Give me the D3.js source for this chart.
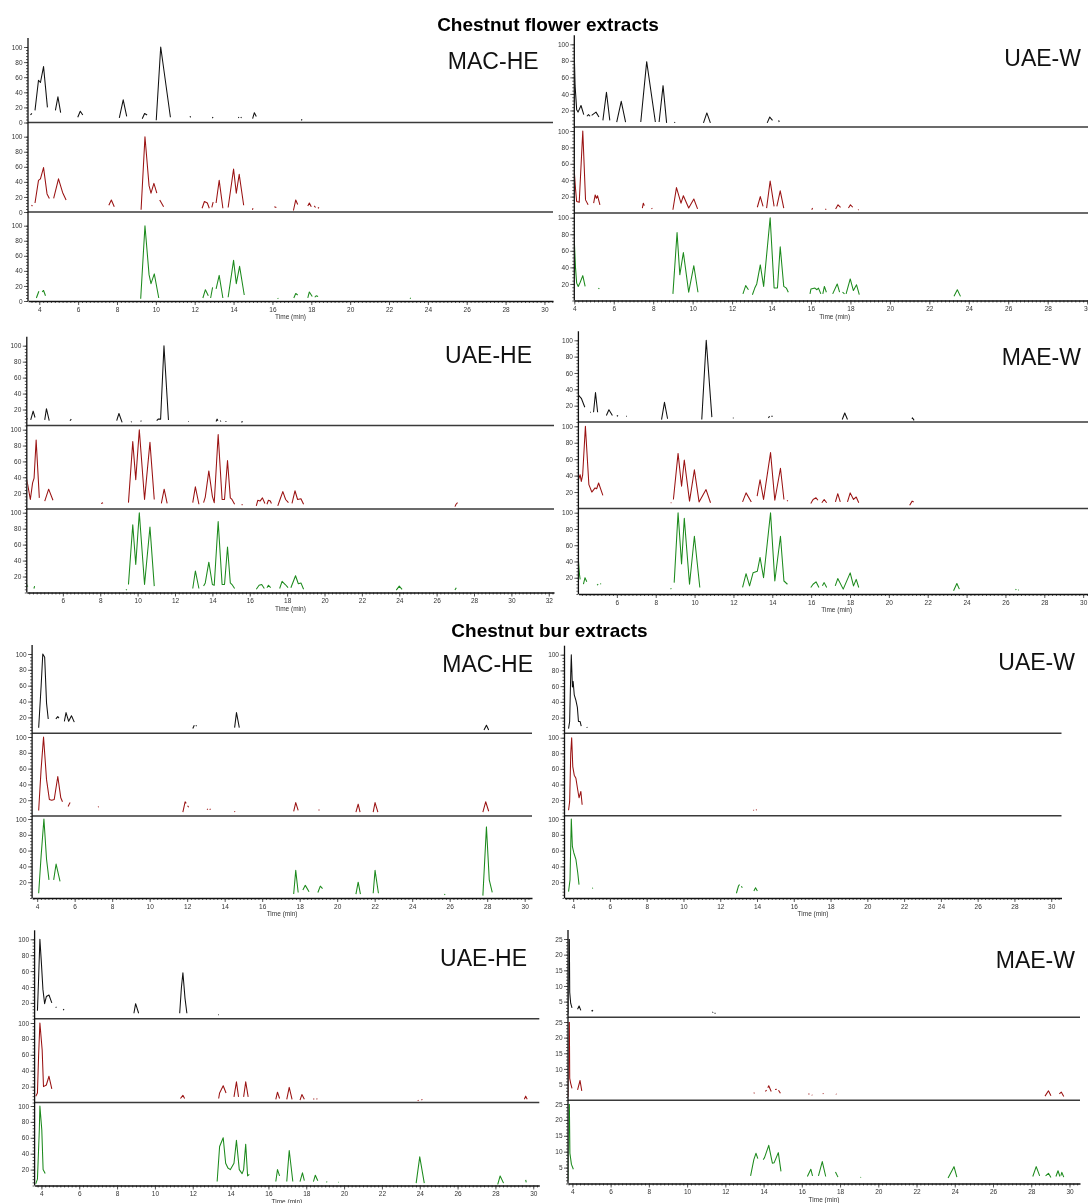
<!DOCTYPE html>
<html>
<head>
<meta charset="utf-8">
<script src="https://cdn.jsdelivr.net/npm/d3@7"></script>
<style>
  body { margin: 0; background: #fff; }
  svg { display: block; font-family: "Liberation Sans", Arial, sans-serif; will-change: transform; }
  .tick text { font-size: 6.5px; fill: #333; }
  .tick line { stroke: #333; stroke-width: 0.8; }
  .domain { stroke: #111; stroke-width: 1.3; }
</style>
</head>
<body>
<div id="chart"></div>
<script>
// each trace = list of visible segments, each segment = [time (min), relative abundance]
// ---- Chestnut flower, MAC-HE
const fMacHeK = [
  [[3.55,10],[3.62,12]],
  [[3.78,16],[3.96,56],[4.06,53],[4.22,74],[4.42,20]],
  [[4.83,16],[4.96,34],[5.1,13]],
  [[5.98,7],[6.11,15],[6.24,10]],
  [[8.12,6],[8.32,30],[8.5,8]],
  [[9.3,5],[9.42,12],[9.55,10]],
  [[10.02,3],[10.25,100],[10.75,7]],
  [[11.75,8],[11.8,7]], [[12.9,7],[12.95,6]],
  [[14.24,7],[14.28,6]], [[14.37,7],[14.41,6]],
  [[14.98,5],[15.07,13],[15.17,8]],
  [[17.48,4],[17.53,3]]
];
const fMacHeR = [
  [[3.6,9],[3.65,8]],
  [[3.78,12],[3.96,42],[4.06,44],[4.22,59],[4.4,24],[4.52,18]],
  [[4.74,18],[4.99,44],[5.2,26],[5.38,16]],
  [[7.58,9],[7.71,16],[7.86,7]],
  [[9.24,3],[9.44,100],[9.65,35],[9.75,25],[9.9,38],[10.05,25]],
  [[10.2,16],[10.4,7]],
  [[12.38,5],[12.5,14],[12.65,12],[12.75,5]],
  [[12.88,6],[12.95,13]],
  [[13.1,12],[13.26,42],[13.45,5]],
  [[13.72,6],[14.0,57],[14.14,25],[14.29,50],[14.52,9]],
  [[14.97,3],[15.0,5]], [[16.1,7],[16.2,6]],
  [[17.08,2],[17.2,16],[17.3,10]],
  [[17.82,8],[17.9,12],[18.0,7]], [[18.15,8],[18.22,6]], [[18.34,6],[18.4,5]]
];
const fMacHeG = [
  [[3.85,4],[3.98,13]], [[4.15,12],[4.22,14],[4.32,7]],
  [[9.22,3],[9.44,100],[9.65,35],[9.75,23],[9.92,36],[10.15,4]],
  [[12.42,4],[12.55,15],[12.7,7]],
  [[12.82,4],[12.92,18]],
  [[13.1,16],[13.26,34],[13.45,4]],
  [[13.72,5],[14.0,54],[14.14,23],[14.31,46],[14.55,8]],
  [[16.27,4],[16.3,3]],
  [[17.1,4],[17.2,10],[17.3,8]],
  [[17.82,4],[17.9,12],[18.05,6]], [[18.18,5],[18.25,7],[18.35,6]],
  [[23.08,4],[23.12,3]]
];
// ---- Chestnut flower, UAE-W
const fUaeWK = [
  [[4.0,87],[4.04,50],[4.12,21],[4.19,18],[4.34,26],[4.48,15]],
  [[4.64,13],[4.72,15],[4.8,13]],
  [[4.88,14],[5.1,18],[5.25,12]],
  [[5.45,8],[5.63,42],[5.8,8]],
  [[6.15,6],[6.38,31],[6.6,6]],
  [[7.37,6],[7.67,79],[8.11,6]],
  [[8.3,6],[8.5,50],[8.68,5]],
  [[9.08,6],[9.1,5]],
  [[10.55,5],[10.72,17],[10.9,5]],
  [[13.78,5],[13.91,12],[14.05,8]],
  [[14.36,8],[14.39,6]]
];
const fUaeWR = [
  [[4.0,51],[4.06,30],[4.12,14],[4.25,13],[4.43,100],[4.57,16],[4.7,10]],
  [[4.98,12],[5.06,22],[5.12,18],[5.18,21],[5.3,10]],
  [[7.45,6],[7.5,12],[7.55,9]], [[7.92,6],[7.95,5]],
  [[9.0,4],[9.18,31],[9.41,12],[9.53,21],[9.8,6],[10.06,17],[10.25,5]],
  [[13.28,7],[13.43,20],[13.57,8]],
  [[13.75,6],[13.93,39],[14.13,8]],
  [[14.27,8],[14.44,27],[14.62,6]],
  [[16.04,4],[16.08,6]], [[16.73,4],[16.77,5]],
  [[17.25,5],[17.37,10],[17.5,7]],
  [[17.9,6],[18.0,10],[18.12,7]],
  [[18.38,4],[18.42,4]]
];
const fUaeWG = [
  [[4.0,73],[4.06,40],[4.12,21],[4.2,17],[4.3,22],[4.43,30],[4.55,17]],
  [[5.22,15],[5.27,14]],
  [[9.0,8],[9.21,82],[9.35,31],[9.53,58],[9.8,10],[10.06,42],[10.27,10]],
  [[12.55,8],[12.69,18],[12.83,13]],
  [[13.03,7],[13.15,15],[13.25,20],[13.43,43],[13.6,17],[13.93,100],[14.13,15],[14.3,15],[14.44,65],[14.62,17],[14.75,15],[14.85,10]],
  [[15.95,8],[16.0,14],[16.2,15],[16.3,13],[16.38,15],[16.5,8]],
  [[16.6,8],[16.68,17],[16.78,10]],
  [[17.1,8],[17.33,20],[17.45,10]],
  [[17.6,10],[17.7,8]],
  [[17.78,8],[17.99,26],[18.15,12],[18.31,19],[18.45,7]],
  [[23.25,5],[23.42,13],[23.58,5]]
];
// ---- Chestnut flower, UAE-HE
const fUaeHeK = [
  [[4.07,9],[4.12,8]],
  [[4.28,7],[4.41,18],[4.51,10]],
  [[5.03,7],[5.12,21],[5.27,6]],
  [[6.38,6],[6.45,8]],
  [[8.88,6],[9.0,15],[9.17,4]],
  [[9.65,5],[9.68,4]], [[10.16,5],[10.2,6]],
  [[11.02,6],[11.1,8],[11.23,8],[11.41,100],[11.65,7]],
  [[12.7,5],[12.73,5]],
  [[14.2,5],[14.25,8],[14.3,6]], [[14.42,6],[14.46,5]], [[14.7,5],[14.75,5]],
  [[15.55,4],[15.62,5]]
];
const fUaeHeR = [
  [[4.07,37],[4.26,12],[4.38,33],[4.46,39],[4.57,87],[4.74,14]],
  [[5.03,10],[5.24,25],[5.47,11]],
  [[8.05,7],[8.15,8]],
  [[9.51,8],[9.74,85],[9.9,37],[10.09,100],[10.37,12],[10.66,84],[10.89,12]],
  [[11.27,7],[11.42,25],[11.58,7]],
  [[12.95,8],[13.09,28],[13.28,6]],
  [[13.53,8],[13.62,15],[13.81,48],[14.0,16],[14.1,8],[14.31,94],[14.52,12],[14.65,12],[14.81,61],[14.96,14],[15.05,12],[15.19,6]],
  [[15.57,5],[15.61,6]],
  [[16.35,4],[16.43,11],[16.55,10],[16.68,14],[16.81,7]],
  [[16.92,6],[17.0,11],[17.1,10],[17.16,7]],
  [[17.5,4],[17.62,12],[17.77,22],[17.92,12],[18.07,8]],
  [[18.26,7],[18.42,23],[18.56,12],[18.74,13],[18.88,6]],
  [[26.98,3],[27.04,6],[27.12,8]]
];
const fUaeHeG = [
  [[4.07,10],[4.12,7]], [[4.45,5],[4.49,8]], [[9.38,3],[9.42,4]],
  [[9.51,10],[9.74,85],[9.9,35],[10.09,100],[10.37,10],[10.66,82],[10.89,8]],
  [[12.95,5],[13.09,27],[13.28,5]],
  [[13.53,8],[13.62,12],[13.81,38],[14.0,10],[14.1,9],[14.31,89],[14.52,10],[14.65,10],[14.81,57],[14.96,12],[15.05,10],[15.19,5]],
  [[16.35,4],[16.5,9],[16.64,10],[16.78,5]],
  [[16.92,6],[17.0,9],[17.12,6]],
  [[17.6,5],[17.73,14],[17.9,10],[18.05,6]],
  [[18.2,6],[18.45,21],[18.6,11],[18.74,12],[18.88,4]],
  [[23.84,3],[24.0,8],[24.15,4]],
  [[26.98,3],[27.05,6]]
];
// ---- Chestnut flower, MAE-W
const fMaeWK = [
  [[4.02,33],[4.17,29],[4.35,18]],
  [[4.63,12],[4.67,12]],
  [[4.8,12],[4.9,36],[5.01,12]],
  [[5.46,8],[5.59,15],[5.77,8]],
  [[6.0,8],[6.06,7]], [[6.47,7],[6.51,7]],
  [[8.3,3],[8.45,24],[8.61,4]],
  [[10.37,3],[10.6,100],[10.89,6]],
  [[11.97,5],[12.01,5]],
  [[13.8,5],[13.86,7]], [[13.95,7],[14.02,7]],
  [[17.6,3],[17.73,11],[17.87,3]],
  [[21.18,4],[21.22,5],[21.3,2]]
];
const fMaeWR = [
  [[4.02,35],[4.11,41],[4.17,33],[4.24,41],[4.38,100],[4.56,29],[4.71,20],[4.88,25],[4.96,24],[5.06,31],[5.28,16]],
  [[8.77,7],[8.81,7]],
  [[8.91,11],[9.15,67],[9.33,27],[9.47,59],[9.74,9],[9.99,47],[10.23,8],[10.59,23],[10.82,7]],
  [[12.47,8],[12.65,19],[12.92,8]],
  [[13.22,15],[13.37,35],[13.55,11],[13.91,68],[14.13,10],[14.42,49],[14.6,11]],
  [[14.76,10],[14.8,9]],
  [[15.98,6],[16.1,11],[16.25,13],[16.35,10]],
  [[16.55,7],[16.67,11],[16.8,7]],
  [[17.25,8],[17.37,18],[17.5,8]],
  [[17.87,8],[18.01,19],[18.18,11],[18.32,14],[18.45,7]],
  [[21.07,4],[21.2,9],[21.28,8]]
];
const fMaeWG = [
  [[4.02,42],[4.07,25],[4.11,18]],
  [[4.28,12],[4.36,20],[4.45,15]],
  [[4.98,11],[5.04,12]], [[5.15,13],[5.18,12]],
  [[8.77,7],[8.8,6]],
  [[8.95,14],[9.15,100],[9.33,37],[9.47,93],[9.74,12],[9.99,71],[10.27,8]],
  [[12.47,8],[12.65,25],[12.83,10],[13.01,26],[13.23,28],[13.37,45],[13.55,20],[13.91,100],[14.13,16],[14.42,71],[14.6,16],[14.78,12]],
  [[15.98,8],[16.1,12],[16.25,15],[16.4,8]],
  [[16.58,10],[16.67,14],[16.8,8]],
  [[17.24,10],[17.37,19],[17.65,6],[18.01,26],[18.18,10],[18.32,18],[18.45,8]],
  [[23.33,4],[23.5,13],[23.63,6]],
  [[26.52,5],[26.56,6]], [[26.66,5],[26.7,5]]
];
// ---- Chestnut bur, MAC-HE
const bMacHeK = [
  [[4.08,7],[4.21,59],[4.3,100],[4.4,96],[4.5,38],[4.59,18]],
  [[5.0,18],[5.03,19],[5.1,21],[5.16,19]],
  [[5.45,15],[5.54,26],[5.68,15],[5.83,22],[5.98,14]],
  [[12.3,6],[12.38,10]], [[12.46,10],[12.5,9]],
  [[14.53,7],[14.63,26],[14.78,7]],
  [[27.83,4],[27.96,10],[28.08,4]]
];
const bMacHeR = [
  [[4.08,7],[4.21,59],[4.34,100],[4.5,46],[4.65,21],[4.78,20],[4.91,21],[5.1,50],[5.26,23],[5.35,18]],
  [[5.65,12],[5.73,16],[5.76,17]],
  [[7.25,12],[7.28,11]],
  [[11.77,5],[11.89,18],[11.95,16]], [[12.02,13],[12.08,11]],
  [[13.06,8],[13.1,9]], [[13.2,8],[13.25,9]],
  [[14.52,6],[14.55,5]],
  [[17.68,6],[17.79,17],[17.92,7]],
  [[19.01,8],[19.05,7]],
  [[21.0,5],[21.12,15],[21.22,5]],
  [[21.92,5],[22.02,17],[22.17,5]],
  [[27.77,5],[27.92,18],[28.08,6]]
];
const bMacHeG = [
  [[4.08,6],[4.21,53],[4.36,100],[4.5,49],[4.63,23]],
  [[4.88,23],[5.01,43],[5.22,21]],
  [[17.68,5],[17.79,35],[17.92,7]],
  [[18.17,10],[18.3,16],[18.5,8]],
  [[18.97,7],[19.1,15],[19.22,12]],
  [[21.0,5],[21.12,20],[21.24,5]],
  [[21.92,6],[22.02,35],[22.2,6]],
  [[25.72,4],[25.75,5]],
  [[27.77,3],[27.96,90],[28.11,23],[28.27,7]]
];
// ---- Chestnut bur, UAE-W
const bUaeWK = [
  [[3.75,6],[3.81,15],[3.87,76],[3.9,100],[3.96,59],[4.0,66],[4.06,49],[4.15,42],[4.23,33],[4.29,15],[4.38,15],[4.44,9]],
  [[4.74,8],[4.77,7]]
];
const bUaeWR = [
  [[3.75,7],[3.81,18],[3.87,80],[3.92,100],[3.98,63],[4.06,52],[4.15,48],[4.25,33],[4.32,23],[4.42,31],[4.49,14]],
  [[13.8,7],[13.84,7]], [[13.95,8],[13.98,7]]
];
const bUaeWG = [
  [[3.75,8],[3.83,23],[3.9,100],[3.96,65],[4.04,57],[4.15,49],[4.25,32],[4.32,17]],
  [[5.04,13],[5.07,12]],
  [[12.88,6],[12.99,15],[13.05,17]], [[13.15,15],[13.2,13]],
  [[13.83,9],[13.92,13],[14.02,9]]
];
// ---- Chestnut bur, UAE-HE
const bUaeHeK = [
  [[3.79,10],[3.85,49],[3.92,100],[4.0,70],[4.08,37],[4.17,19],[4.26,28],[4.4,30],[4.55,20]],
  [[4.76,15],[4.79,14]], [[5.15,12],[5.2,11]],
  [[8.89,7],[8.98,19],[9.14,7]],
  [[11.31,7],[11.4,39],[11.48,58],[11.59,26],[11.69,7]],
  [[13.35,5],[13.39,5]]
];
const bUaeHeR = [
  [[3.7,8],[3.79,12],[3.85,58],[3.92,100],[4.04,66],[4.11,20],[4.26,22],[4.4,33],[4.55,17]],
  [[11.35,5],[11.48,9],[11.57,5]],
  [[13.37,5],[13.42,12],[13.61,21],[13.76,12]],
  [[14.18,7],[14.31,26],[14.42,7]],
  [[14.69,7],[14.8,26],[14.93,7]],
  [[16.39,4],[16.48,13],[16.59,5]],
  [[16.97,4],[17.1,19],[17.25,4]],
  [[17.67,3],[17.77,10],[17.9,4]],
  [[18.38,4],[18.42,5]], [[18.55,5],[18.58,4]],
  [[23.9,3],[23.93,2]], [[24.1,4],[24.13,3]],
  [[29.53,4],[29.6,8],[29.68,4]]
];
const bUaeHeG = [
  [[3.7,2],[3.79,8],[3.89,70],[3.92,100],[4.02,70],[4.09,20],[4.2,15]],
  [[13.29,5],[13.42,49],[13.61,60],[13.74,28],[13.86,22],[13.99,20],[14.18,28],[14.31,57],[14.46,20],[14.61,15],[14.69,20],[14.8,52],[14.9,12],[14.99,14]],
  [[16.39,5],[16.48,20],[16.59,12]],
  [[16.97,5],[17.1,44],[17.29,5]],
  [[17.67,5],[17.8,16],[17.9,6]],
  [[18.38,5],[18.48,13],[18.61,6]],
  [[19.07,4],[19.1,5]], [[19.7,4],[19.73,4]],
  [[23.81,3],[24.0,36],[24.24,3]],
  [[28.12,1],[28.25,12],[28.43,3]],
  [[29.6,7],[29.63,4]]
];
// ---- Chestnut bur, MAE-W (scale 0-25)
const bMaeWK = [
  [[3.79,1],[3.81,26],[3.84,26],[3.86,8],[3.91,4.5],[3.98,3]],
  [[4.27,2.6],[4.35,3.6],[4.44,2.2]],
  [[5.0,2],[5.04,2.2],[5.08,2]],
  [[11.33,1.5],[11.36,1.7]], [[11.44,1.4],[11.48,1.2]]
];
const bMaeWR = [
  [[3.79,1],[3.81,26],[3.84,26],[3.86,7],[3.91,5.4],[3.98,3.8]],
  [[4.27,3.3],[4.4,6.3],[4.49,3]],
  [[13.49,2.2],[13.52,2.4]],
  [[14.09,2.8],[14.16,3.2]], [[14.22,4],[14.27,4.6],[14.4,2.8]],
  [[14.6,3.4],[14.69,3.5]], [[14.78,3.2],[14.88,2.2]],
  [[16.34,2],[16.4,2]], [[16.52,1.7],[16.55,1.6]],
  [[17.1,2.2],[17.13,2]], [[17.78,2],[17.81,1.9]],
  [[28.72,1.3],[28.9,3],[29.03,1.4]],
  [[29.47,2],[29.57,2.6],[29.7,1.2]]
];
const bMaeWG = [
  [[3.79,1],[3.81,26],[3.84,26],[3.87,9.5],[3.95,6],[4.05,4.5]],
  [[13.32,2.4],[13.49,7.5],[13.6,9.5],[13.7,7.8]],
  [[13.98,7.5],[14.04,8],[14.27,12],[14.46,6.4],[14.55,6.5],[14.77,9.7],[14.91,3.8]],
  [[16.29,2.2],[16.47,4.5],[16.56,2.4]],
  [[16.87,2.4],[17.07,6.9],[17.25,2.2]],
  [[17.76,3.6],[17.89,2]],
  [[19.07,2],[19.1,1.9]],
  [[23.65,1.7],[23.96,5.3],[24.11,2]],
  [[28.08,2.2],[28.26,5.3],[28.44,2.4]],
  [[28.75,2.4],[28.9,3.2],[29.03,1.9]],
  [[29.29,2.2],[29.4,4],[29.5,2.2]],
  [[29.55,2.5],[29.6,3.5],[29.7,2]]
];

const titles = ["Chestnut flower extracts", "Chestnut bur extracts"];
const pctTicks = [20, 40, 60, 80, 100];
const pctTicksZero = [0, 20, 40, 60, 80, 100];
const lowTicks = [5, 10, 15, 20, 25];
const colors = ["#111111", "#9a1212", "#1c8a1c"];

// layout of the eight panels (pixels) + which traces go in
const panels = [
  {name:"MAC-HE", x0:28,    x1:553,  t0:3.42, t1:30.44, ymax:100, yt:pctTicksZero, xt:d3.range(4,31,2),
   rows:[[47,122.5],[136.7,212],[225.7,301]], tr:[fMacHeK,fMacHeR,fMacHeG], lx:538.6, ly:69},
  {name:"UAE-W",  x0:574.3, x1:1095, t0:4.0,  t1:30.40, ymax:100, yt:pctTicks, xt:d3.range(4,31,2),
   rows:[[44.3,127],[131,213],[217.7,300.5]], tr:[fUaeWK,fUaeWR,fUaeWG], lx:1081, ly:65.7},
  {name:"UAE-HE", x0:26.8,  x1:554,  t0:4.07, t1:32.28, ymax:100, yt:pctTicks, xt:d3.range(6,33,2),
   rows:[[345.7,425.5],[429.7,509],[512.7,592.5]], tr:[fUaeHeK,fUaeHeR,fUaeHeG], lx:532, ly:363.3},
  {name:"MAE-W",  x0:578.4, x1:1095, t0:4.02, t1:30.61, ymax:100, yt:pctTicks, xt:d3.range(6,31,2),
   rows:[[340.3,422],[426.3,508.5],[512.7,594]], tr:[fMaeWK,fMaeWR,fMaeWG], lx:1081, ly:365},
  {name:"MAC-HE", x0:32.1,  x1:532,  t0:3.73, t1:30.39, ymax:100, yt:pctTicks, xt:d3.range(4,31,2),
   rows:[[654,733.2],[737,816],[819,898]], tr:[bMacHeK,bMacHeR,bMacHeG], lx:533, ly:671.7},
  {name:"UAE-W",  x0:564.5, x1:1061.5, t0:3.53, t1:30.56, ymax:100, yt:pctTicks, xt:d3.range(4,31,2),
   rows:[[654.7,733.3],[737.7,815.7],[819,898]], tr:[bUaeWK,bUaeWR,bUaeWG], lx:1075, ly:670},
  {name:"UAE-HE", x0:34.6,  x1:539.3, t0:3.64, t1:30.32, ymax:100, yt:pctTicks, xt:d3.range(4,31,2),
   rows:[[939.3,1018.8],[1023,1102.5],[1106,1185.5]], tr:[bUaeHeK,bUaeHeR,bUaeHeG], lx:527, ly:965.7},
  {name:"MAE-W",  x0:568,   x1:1080, t0:3.77, t1:30.55, ymax:25, yt:lowTicks, xt:d3.range(4,31,2),
   rows:[[939,1017.3],[1022,1100.2],[1104,1183.5]], tr:[bMaeWK,bMaeWR,bMaeWG], lx:1075, ly:967.7}
];

const W = 1088, H = 1203;
const svg = d3.select("#chart").append("svg").attr("width", W).attr("height", H);
const defs = svg.append("defs");

svg.append("text").attr("x", 548).attr("y", 31).attr("text-anchor", "middle")
  .style("font-size", "19px").style("font-weight", "bold").text(titles[0]);
svg.append("text").attr("x", 549.5).attr("y", 636.5).attr("text-anchor", "middle")
  .style("font-size", "19px").style("font-weight", "bold").text(titles[1]);

panels.forEach(function(p, pi) {
  const g = svg.append("g");
  const x = d3.scaleLinear().domain([p.t0, p.t1]).range([p.x0, p.x1]);

  p.rows.forEach(function(r, ri) {
    const y = d3.scaleLinear().domain([0, p.ymax]).range([r[1], r[0]]);

    // clip each trace to its strip
    const cid = "clip" + pi + "_" + ri;
    const ctop = p.ymax === 25 ? r[0] : r[0] - 8;
    defs.append("clipPath").attr("id", cid).append("rect")
      .attr("x", p.x0 + 0.5).attr("y", ctop)
      .attr("width", p.x1 - p.x0).attr("height", r[1] - ctop - 0.8);

    // y axis, minor then major
    g.append("g").attr("transform", "translate(" + p.x0 + ",0)")
      .call(d3.axisLeft(y).tickValues(d3.range(0, p.ymax + 0.01, p.ymax / 25)).tickSize(2).tickFormat(""))
      .call(a => a.select(".domain").remove());
    g.append("g").attr("transform", "translate(" + p.x0 + ",0)")
      .call(d3.axisLeft(y).tickValues(p.yt).tickSize(4).tickPadding(1.5).tickFormat(d3.format("d")))
      .call(a => a.select(".domain").remove());

    if (ri < 2) {
      g.append("line").attr("x1", p.x0).attr("x2", p.x1)
        .attr("y1", y(0)).attr("y2", y(0))
        .attr("stroke", "#3a3a3a").attr("stroke-width", 1.6);
    } else {
      g.append("g").attr("transform", "translate(0," + y(0) + ")")
        .call(d3.axisBottom(x).tickValues(d3.range(Math.ceil(p.t0 * 5) / 5, p.t1, 0.2)).tickSize(2).tickFormat(""))
        .call(a => a.select(".domain").remove());
      g.append("g").attr("transform", "translate(0," + y(0) + ")")
        .call(d3.axisBottom(x).tickValues(p.xt).tickSize(4).tickPadding(2).tickFormat(d3.format("d")).tickSizeOuter(0));
      g.append("text").attr("x", x((p.t0 + p.t1) / 2)).attr("y", y(0) + 18)
        .attr("text-anchor", "middle").style("font-size", "6.5px").attr("fill", "#333")
        .text("Time (min)");
    }

    const line = d3.line().x(d => x(d[0])).y(d => y(d[1]));
    g.append("g").attr("clip-path", "url(#" + cid + ")")
      .selectAll("path").data(p.tr[ri]).enter().append("path")
      .attr("d", line).attr("fill", "none")
      .attr("stroke", colors[ri]).attr("stroke-width", 1.05)
      .attr("stroke-linejoin", "round");
  });

  // continuous y axis line across the three strips
  g.append("line").attr("x1", p.x0).attr("x2", p.x0)
    .attr("y1", p.rows[0][0] - 9).attr("y2", p.rows[2][1])
    .attr("stroke", "#111").attr("stroke-width", 1.3);

  g.append("text").attr("x", p.lx).attr("y", p.ly).attr("text-anchor", "end")
    .style("font-size", "23px").attr("fill", "#111").text(p.name);
});
</script>
</body>
</html>
